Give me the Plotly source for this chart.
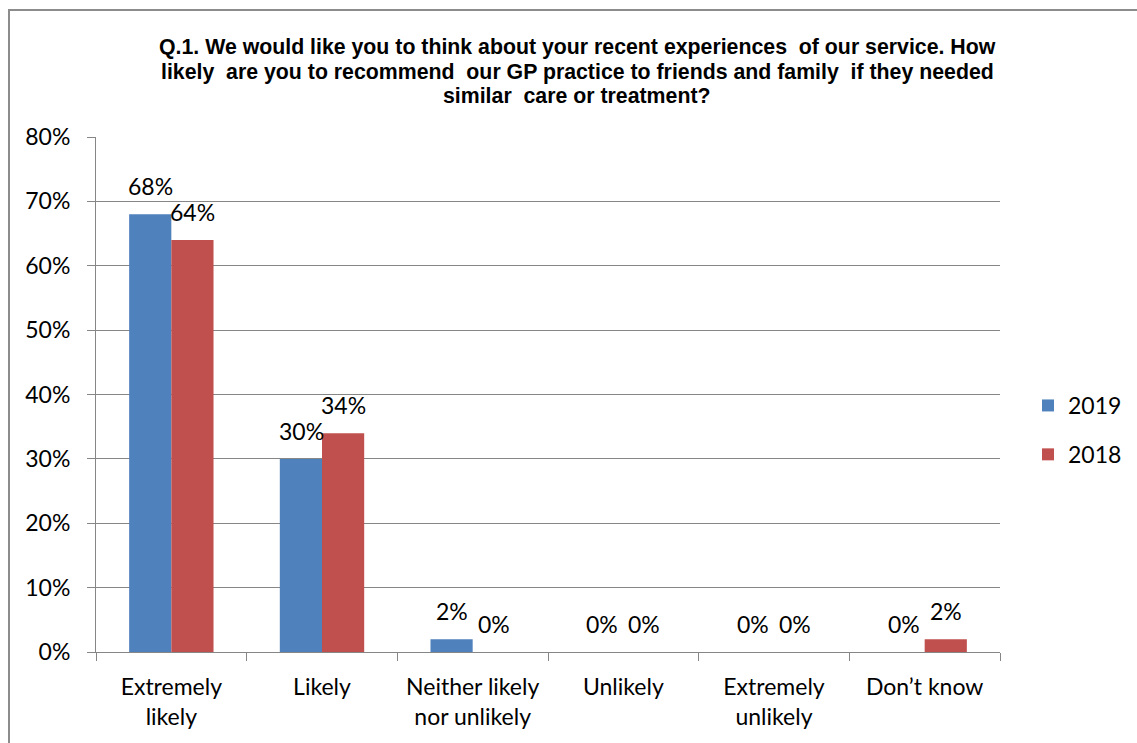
import plotly.graph_objects as go

categories = ["Extremely<br>likely", "Likely", "Neither likely<br>nor unlikely",
              "Unlikely", "Extremely<br>unlikely", "Don’t know"]
values_2019 = [0.68, 0.30, 0.02, 0.0, 0.0, 0.0]
values_2018 = [0.64, 0.34, 0.0, 0.0, 0.0, 0.02]
series_names = ["2019", "2018"]
colors = ["#4F81BD", "#C0504D"]
y_ticks = [0, 0.1, 0.2, 0.3, 0.4, 0.5, 0.6, 0.7, 0.8]
y_tick_labels = ["0%", "10%", "20%", "30%", "40%", "50%", "60%", "70%", "80%"]
title_lines = ["Q.1. We would like you to think about your recent experiences  of our service. How",
               "likely  are you to recommend  our GP practice to friends and family  if they needed",
               "similar  care or treatment?"]

FONT = "Lato, Carlito, Calibri, sans-serif"
L, R, T, B = 96, 137, 137, 91
W, H = 1137, 743
PW, PH = W - L - R, H - T - B

fig = go.Figure()
for name, vals, col in zip(series_names, [values_2019, values_2018], colors):
    fig.add_trace(go.Bar(x=categories, y=vals, name=name, marker_color=col,
                         marker_line_width=0, hoverinfo="skip", legendgroup=name))

annotations = []
for i, (name, vals) in enumerate(zip(series_names, [values_2019, values_2018])):
    shift = -21 if i == 0 else 21
    for c, v in zip(categories, vals):
        annotations.append(dict(x=c, y=v, xref="x", yref="y", text=f"{round(v*100)}%",
                                showarrow=False, xshift=shift, yshift=28,
                                font=dict(family=FONT, size=23, color="#000")))

for line, ypx in zip(title_lines, [47, 72, 96]):
    annotations.append(dict(x=(577 - L) / PW, y=(H - B - ypx) / PH, xref="paper", yref="paper",
                            xanchor="center", yanchor="middle", text=f"<b>{line}</b>",
                            showarrow=False,
                            font=dict(family="Liberation Sans, Arial", size=21.3, color="#000")))

fig.update_layout(
    width=W, height=H,
    margin=dict(l=L, r=R, t=T, b=B, autoexpand=False),
    paper_bgcolor="white", plot_bgcolor="white",
    barmode="group", bargap=0.44, bargroupgap=0,
    font=dict(family=FONT, size=23, color="#000"),
    showlegend=True,
    legend=dict(x=(1042 - 14 - L) / PW, y=(H - B - 430) / PH, xanchor="left", yanchor="middle",
                font=dict(family=FONT, size=23, color="#000"),
                itemwidth=30, tracegroupgap=16, traceorder="grouped"),
    xaxis=dict(showgrid=False, showline=True, linecolor="#868686", linewidth=1,
               ticks="outside", tickson="boundaries", ticklen=8, tickcolor="#868686",
               ticklabelstandoff=14,
               tickfont=dict(family=FONT, size=23, color="#000")),
    yaxis=dict(range=[0, 0.8], tickvals=y_ticks, ticktext=y_tick_labels,
               showgrid=True, gridcolor="#868686", gridwidth=1,
               showline=True, linecolor="#868686", linewidth=1,
               ticks="outside", ticklen=8, tickcolor="#868686",
               ticklabelstandoff=12, zeroline=False,
               tickfont=dict(family=FONT, size=23, color="#000")),
    annotations=annotations,
)

fig.add_shape(type="rect", xref="paper", yref="paper",
              x0=(9 - L) / PW, x1=1.3, y0=-0.4, y1=(H - B - 10) / PH,
              line=dict(color="#8C8C8C", width=2), fillcolor="rgba(0,0,0,0)", layer="below")

fig.write_html("out.html", config={"displayModeBar": False},
               post_script="document.body.style.margin='0';document.body.style.padding='0';")
